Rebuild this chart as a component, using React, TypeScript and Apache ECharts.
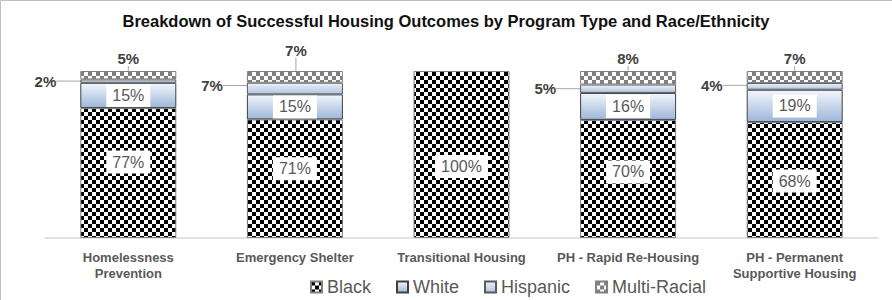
import React, { useEffect, useRef } from 'react';
import * as echarts from 'echarts';

const titleText = 'Breakdown of Successful Housing Outcomes by Program Type and Race/Ethnicity';
const categories = [
  'Homelessness\nPrevention',
  'Emergency Shelter',
  'Transitional Housing',
  'PH - Rapid Re-Housing',
  'PH - Permanent\nSupportive Housing',
];
const seriesNames = ['Black', 'White', 'Hispanic', 'Multi-Racial'];
const blackValues = [77, 71, 100, 70, 68];
const whiteValues = [15, 15, 0, 16, 19];
const hispanicValues = [2, 7, 0, 5, 4];
const multiValues = [5, 7, 0, 8, 7];

const FONT = '"Liberation Sans", Arial, sans-serif';

function checker(size: number, dark: string, light: string): any {
  const c = document.createElement('canvas');
  c.width = size * 2;
  c.height = size * 2;
  const ctx = c.getContext('2d')!;
  ctx.fillStyle = light;
  ctx.fillRect(0, 0, size * 2, size * 2);
  ctx.fillStyle = dark;
  ctx.fillRect(0, 0, size, size);
  ctx.fillRect(size, size, size, size);
  return { image: c, repeat: 'repeat', imageWidth: size * 2, imageHeight: size * 2 };
}

export default function App() {
  const ref = useRef<HTMLDivElement>(null);
  useEffect(() => {
    document.body.style.margin = '0';
    if (!ref.current) return;
    const chart = echarts.init(ref.current, null, { renderer: 'svg' });

    const totals = categories.map(
      (_, i) => blackValues[i] + whiteValues[i] + hispanicValues[i] + multiValues[i]
    );
    const toData = (vals: number[]) =>
      vals.map((v, i) => ({
        value: v > 0 ? (v / totals[i]) * 100 : '-',
        raw: v,
        label: { show: v > 0 },
      }));
    const fmt = (p: any) => p.data.raw + '%';

    const blackDy = [-11, -10, 12, -7, 1];
    const hispDy = [0, -3, 0, 0, -1];

    const innerLabel = {
      show: true,
      position: 'inside',
      formatter: fmt,
      color: '#595959',
      fontSize: 16,
      fontFamily: FONT,
      backgroundColor: '#ffffff',
      padding: [4, 6, 3, 6],
    };
    const outerLabel = {
      show: true,
      formatter: fmt,
      color: '#404040',
      fontSize: 15,
      fontWeight: 'bold',
      fontFamily: FONT,
    };

    const whiteGrad = new echarts.graphic.LinearGradient(0, 0, 0, 1, [
      { offset: 0, color: '#f3f6fb' },
      { offset: 1, color: '#9db7da' },
    ]);
    const hispGrad = new echarts.graphic.LinearGradient(0, 0, 0, 1, [
      { offset: 0, color: '#eef3f9' },
      { offset: 1, color: '#afc4e1' },
    ]);

    chart.setOption({
      animation: false,
      title: {
        text: titleText,
        left: 'center',
        top: 11,
        padding: 0,
        textStyle: { fontSize: 16.5, fontWeight: 'bold', color: '#111', fontFamily: FONT, lineHeight: 19 },
      },
      graphic: [
        {
          type: 'rect',
          shape: { x: 0.5, y: 0.5, width: 1000, height: 1000 },
          style: { fill: 'none', stroke: '#bfbfbf', lineWidth: 1 },
          silent: true,
        },
      ],
      legend: {
        data: seriesNames,
        left: 310,
        top: 278,
        padding: 0,
        itemWidth: 11,
        itemHeight: 11,
        itemGap: 25,
        icon: 'rect',
        textStyle: { fontSize: 18, color: '#595959', fontFamily: FONT, lineHeight: 18 },
      },
      grid: { left: 45, right: 14, top: 71, bottom: 62 },
      xAxis: {
        type: 'category',
        data: categories,
        axisLine: { lineStyle: { color: '#d9d9d9', width: 1.5 } },
        axisTick: { show: false },
        axisLabel: {
          interval: 0,
          color: '#595959',
          fontWeight: 'bold',
          fontSize: 13,
          lineHeight: 16,
          margin: 11,
          fontFamily: FONT,
        },
      },
      yAxis: { type: 'value', min: 0, max: 100, show: false },
      series: [
        {
          name: seriesNames[0],
          type: 'bar',
          stack: 'all',
          barWidth: 96,
          data: toData(blackValues),
          itemStyle: { color: checker(4, '#000000', '#ffffff'), borderColor: '#7f7f7f', borderWidth: 1 },
          label: innerLabel,
          labelLayout: (p: any) => ({ dy: blackDy[p.dataIndex] }),
        },
        {
          name: seriesNames[1],
          type: 'bar',
          stack: 'all',
          data: toData(whiteValues),
          itemStyle: { color: whiteGrad, borderColor: '#404040', borderWidth: 1 },
          label: innerLabel,
        },
        {
          name: seriesNames[2],
          type: 'bar',
          stack: 'all',
          data: toData(hispanicValues),
          itemStyle: { color: hispGrad, borderColor: '#595959', borderWidth: 1 },
          label: outerLabel,
          labelLine: { show: true, lineStyle: { color: '#a6a6a6', width: 1 } },
          labelLayout: (p: any) => ({
            x: p.rect.x - 24,
            y: p.rect.y + p.rect.height / 2 + hispDy[p.dataIndex],
            align: 'right',
            verticalAlign: 'middle',
          }),
        },
        {
          name: seriesNames[3],
          type: 'bar',
          stack: 'all',
          data: toData(multiValues),
          itemStyle: { color: checker(4, '#808080', '#ffffff'), borderColor: '#7f7f7f', borderWidth: 1 },
          label: { ...outerLabel, position: 'top', distance: 5 },
          labelLine: { show: true, lineStyle: { color: '#a6a6a6', width: 1 } },
          labelLayout: (p: any) =>
            p.dataIndex === 1
              ? {
                  x: p.rect.x + p.rect.width / 2 + 1,
                  y: p.rect.y - 21,
                  align: 'center',
                  verticalAlign: 'middle',
                }
              : {},
        },
      ],
    });
    return () => chart.dispose();
  }, []);
  return <div ref={ref} style={{ width: 892, height: 300 }} />;
}
